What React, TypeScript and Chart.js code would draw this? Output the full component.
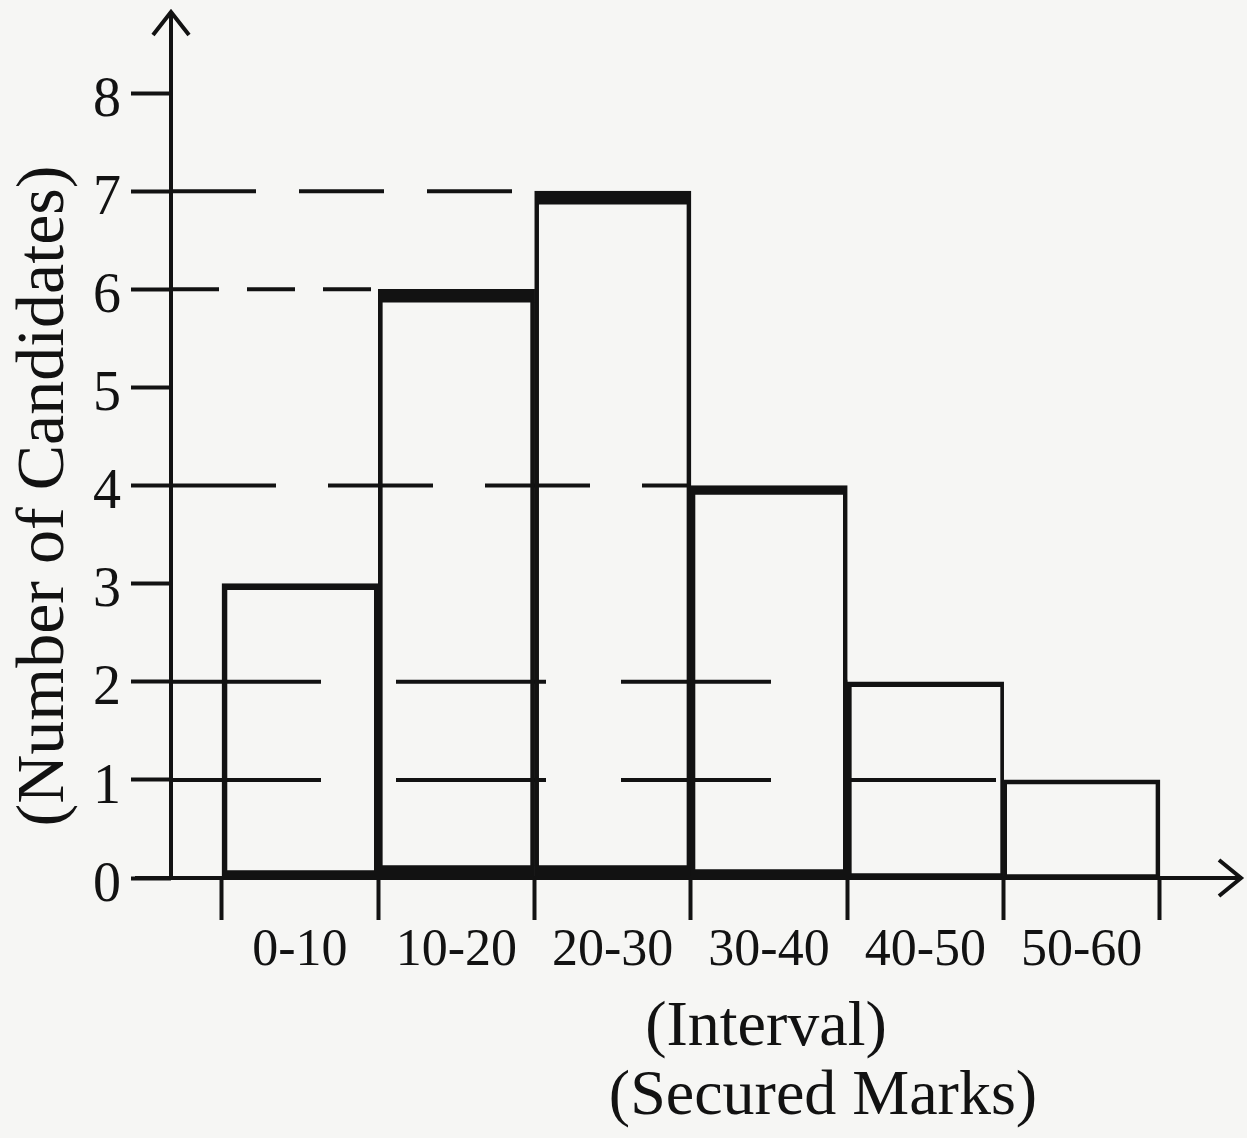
import React, { useEffect, useRef } from 'react';
import { Chart, registerables } from 'chart.js';

Chart.register(...registerables);

// ---------- data ----------
const classLabels = ['0-10', '10-20', '20-30', '30-40', '40-50', '50-60'];
const classStarts = [0, 10, 20, 30, 40, 50];
const classWidth = 10;
const candidates = [3, 6, 7, 4, 2, 1];
const xTickValues = [0, 10, 20, 30, 40, 50, 60];
const yTickValues = [0, 1, 2, 3, 4, 5, 6, 7, 8];
const guideLevels = [7, 6, 4, 2, 1];
const guideEnds = [20, 10, 30, 40, 50];
const xTitleLines = ['(Interval)', '(Secured Marks)'];
const yTitle = '(Number of Candidates)';

// ---------- styles ----------
const X_MIN = -3.26;
const X_MAX = 65.31;
const Y_MAX = 8.846;
const INK = '#121212';
const PAPER = '#f6f6f4';
const FONT = "'Liberation Serif', 'Times New Roman', serif";
const guideDashes = [
  [85, 43],
  [48, 28],
  [105, 52],
  [150, 75],
  [150, 75],
];
const barBorders = [
  { left: 5, right: 4, top: 6, bottom: 7 },
  { left: 4, right: 4, top: 13, bottom: 12 },
  { left: 4, right: 4, top: 13, bottom: 12 },
  { left: 4, right: 4, top: 9, bottom: 8 },
  { left: 4, right: 3, top: 5, bottom: 4 },
  { left: 3, right: 4, top: 4, bottom: 3 },
];

const paperPlugin = {
  id: 'paper',
  beforeDraw(chart: any) {
    const { ctx, width, height } = chart;
    ctx.save();
    ctx.fillStyle = PAPER;
    ctx.fillRect(0, 0, width, height);
    ctx.restore();
  },
};

const axesPlugin = {
  id: 'axesArrows',
  afterDatasetsDraw(chart: any) {
    const { ctx, chartArea } = chart;
    const y = chart.scales.y;
    const y0 = y.getPixelForValue(0);
    const left = chartArea.left;
    ctx.save();
    ctx.strokeStyle = INK;
    ctx.lineWidth = 4;
    ctx.lineCap = 'butt';
    ctx.lineJoin = 'miter';
    ctx.beginPath();
    ctx.moveTo(left - 36, y0);
    ctx.lineTo(chartArea.right - 2, y0);
    ctx.stroke();
    ctx.beginPath();
    ctx.moveTo(left, y0 + 2);
    ctx.lineTo(left, chartArea.top + 2);
    ctx.stroke();
    ctx.beginPath();
    ctx.moveTo(left - 18, chartArea.top + 25);
    ctx.lineTo(left, chartArea.top + 2);
    ctx.lineTo(left + 18, chartArea.top + 25);
    ctx.stroke();
    ctx.beginPath();
    ctx.moveTo(chartArea.right - 24, y0 - 18);
    ctx.lineTo(chartArea.right - 2, y0);
    ctx.lineTo(chartArea.right - 24, y0 + 18);
    ctx.stroke();
    ctx.restore();
  },
};

const titlesPlugin = {
  id: 'axisTitles',
  afterDraw(chart: any) {
    const { ctx } = chart;
    ctx.save();
    ctx.fillStyle = INK;
    ctx.textAlign = 'center';
    ctx.textBaseline = 'middle';
    ctx.font = `64px ${FONT}`;
    ctx.fillText(xTitleLines[0], 766, 1028);
    ctx.fillText(xTitleLines[1], 823, 1097);
    ctx.translate(45, 496);
    ctx.rotate(-Math.PI / 2);
    ctx.font = `68px ${FONT}`;
    ctx.fillText(yTitle, 0, 0);
    ctx.restore();
  },
};

export default function App() {
  const canvasRef = useRef<HTMLCanvasElement | null>(null);

  useEffect(() => {
    document.body.style.margin = '0';
    document.body.style.overflow = 'hidden';
    document.body.style.background = PAPER;
    const canvas = canvasRef.current;
    if (!canvas) return;

    const barData = classStarts.map((s, i) => ({ x: s + classWidth / 2, y: candidates[i] }));
    const guideSets = guideLevels.map((lvl, i) => ({
      type: 'line' as const,
      data: [
        { x: X_MIN, y: lvl },
        { x: guideEnds[i], y: lvl },
      ],
      borderColor: INK,
      borderWidth: 4,
      borderDash: guideDashes[i],
      borderCapStyle: 'butt' as const,
      pointRadius: 0,
      fill: false,
      tension: 0,
      order: 2,
    }));

    const chart = new Chart(canvas, {
      type: 'bar',
      data: {
        datasets: [
          {
            type: 'bar',
            data: barData as any,
            backgroundColor: 'rgba(0,0,0,0)',
            borderColor: INK,
            borderWidth: barBorders as any,
            borderSkipped: false,
            barPercentage: 1,
            categoryPercentage: 1,
            order: 1,
          } as any,
          ...(guideSets as any[]),
        ],
      },
      options: {
        responsive: false,
        animation: false,
        devicePixelRatio: 1,
        layout: { padding: { top: 10, right: 4, bottom: 0, left: 0 } },
        plugins: { legend: { display: false }, tooltip: { enabled: false } },
        scales: {
          x: {
            type: 'linear',
            min: X_MIN,
            max: X_MAX,
            offset: false,
            afterBuildTicks: (s: any) => {
              s.ticks = xTickValues.map((v) => ({ value: v }));
            },
            afterFit: (s: any) => {
              s.height = 260;
              s.paddingLeft = 0;
              s.paddingRight = 0;
            },
            grid: {
              display: true,
              drawOnChartArea: false,
              drawTicks: true,
              tickLength: 42,
              tickWidth: 4,
              tickColor: INK,
              offset: false,
            },
            border: { display: false },
            ticks: {
              autoSkip: false,
              maxRotation: 0,
              minRotation: 0,
              padding: 0,
              labelOffset: 78,
              color: INK,
              font: { family: FONT, size: 52 },
              callback: (v: any) => {
                const i = classStarts.indexOf(Number(v));
                return i >= 0 ? classLabels[i] : '';
              },
            },
          },
          y: {
            type: 'linear',
            min: 0,
            max: Y_MAX,
            afterBuildTicks: (s: any) => {
              s.ticks = yTickValues.map((v) => ({ value: v }));
            },
            afterFit: (s: any) => {
              s.width = 171;
              s.paddingTop = 0;
              s.paddingBottom = 0;
            },
            grid: {
              display: true,
              drawOnChartArea: false,
              drawTicks: true,
              tickLength: 40,
              tickWidth: 4,
              tickColor: INK,
            },
            border: { display: false },
            ticks: {
              padding: 10,
              labelOffset: 8,
              color: INK,
              font: { family: FONT, size: 56 },
              callback: (v: any) => String(v),
            },
          },
        },
      } as any,
      plugins: [paperPlugin, axesPlugin, titlesPlugin],
    });

    return () => chart.destroy();
  }, []);

  return (
    <div style={{ width: 1247, height: 1138 }}>
      <canvas ref={canvasRef} width={1247} height={1138} style={{ display: 'block' }} />
    </div>
  );
}
